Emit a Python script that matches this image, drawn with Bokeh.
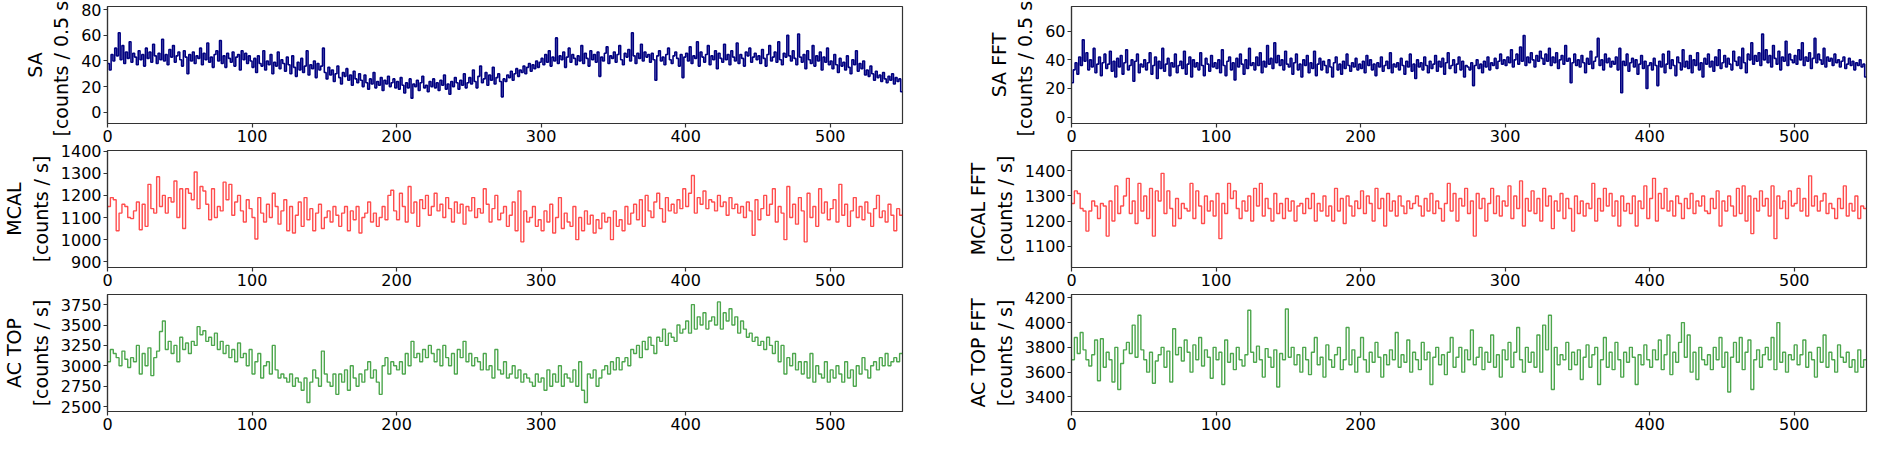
import numpy as np
from bokeh.plotting import figure
from bokeh.models import Range1d, FixedTicker
from bokeh.layouts import row, column
from bokeh.embed import file_html
from bokeh.resources import INLINE

T_END = 550.0

sa = [
    38, 33, 45, 40, 50, 44, 62, 41, 52, 38, 47, 42, 55, 39, 46, 43, 37, 48, 41, 45,
    36, 50, 42, 47, 39, 53, 44, 38, 46, 41, 57, 40, 45, 37, 49, 43, 52, 39, 44, 47,
    41, 36, 48, 43, 30, 45, 40, 47, 38, 44, 42, 50, 37, 46, 41, 54, 39, 43, 35, 45,
    48, 40, 56, 38, 44, 35, 46, 42, 39, 47, 36, 43, 45, 33, 48, 41, 46, 38, 44, 40,
    35, 42, 31, 44, 38, 36, 48, 33, 40, 37, 45, 30, 39, 36, 47, 34, 41, 38, 32, 43,
    37, 30, 44, 35, 28, 39, 33, 42, 31, 36, 48, 29, 37, 34, 40, 27, 38, 33, 36, 50,
    31, 26, 35, 29, 33, 24, 30, 36, 27, 22, 31, 28, 34, 25, 29, 21, 32, 26, 23, 30,
    25, 20, 29, 23, 18, 26, 22, 31, 19, 24, 21, 27, 17, 25, 22, 28, 20, 23, 26, 19,
    24, 18, 27, 21, 15, 23, 19, 26, 11, 22, 20, 25, 17, 23, 28, 19, 21, 16, 24, 20,
    26, 19, 23, 17, 25, 21, 29, 18, 22, 14, 24, 20, 27, 23, 18, 25, 21, 30, 19, 23,
    27, 22, 33, 24, 19, 28, 36, 23, 26, 31, 21, 29, 25, 35, 22, 27, 30, 24, 12, 26,
    24, 29, 27, 32, 25, 30, 34, 28, 33, 31, 36, 30, 35, 38, 32, 37, 34, 40, 35, 39,
    42, 37, 45, 39, 48, 36, 43, 40, 58, 38, 44, 41, 47, 35, 43, 50, 39, 45, 42, 37,
    44, 40, 52, 38, 46, 42, 36, 48, 41, 45, 39, 47, 28, 43, 40, 46, 51, 38, 44, 42,
    47, 39, 45, 52, 41, 37, 46, 43, 49, 40, 62, 44, 38, 46, 42, 53, 40, 47, 43, 45,
    39, 46, 41, 25, 44, 48, 40, 43, 37, 45, 50, 41, 38, 44, 47, 42, 36, 45, 27, 43,
    46, 40, 51, 38, 44, 42, 55, 36, 47, 43, 39, 45, 52, 37, 44, 41, 48, 34, 46, 42,
    39, 53, 41, 45, 37, 48, 43, 40, 54, 38, 45, 42, 36, 47, 44, 50, 39, 43, 46, 41,
    44, 38, 49, 42, 36, 45, 52, 40, 43, 47, 39, 55, 41, 37, 46, 43, 60, 44, 40, 48,
    42, 37, 61, 43, 39, 45, 34, 48, 41, 38, 52, 36, 44, 40, 47, 33, 43, 39, 50, 37,
    40, 34, 45, 37, 31, 42, 36, 39, 33, 44, 35, 30, 41, 37, 48, 32, 38, 34, 40, 29,
    33, 28, 36, 30, 25, 32, 27, 29, 24, 31, 26, 23, 28, 25, 30, 22, 27, 24, 26, 16,
]

sa_fft = [
    24, 33, 38, 30, 42, 36, 54, 39, 45, 33, 40, 35, 48, 31, 37, 42, 29, 38, 44, 34,
    37, 46, 32, 39, 28, 41, 35, 43, 30, 38, 47, 33, 36, 40, 25, 39, 44, 31, 37, 35,
    40, 33, 38, 45, 30, 36, 42, 27, 39, 34, 48, 32, 37, 41, 29, 38, 35, 44, 31, 36,
    39, 34, 46, 30, 37, 42, 28, 40, 35, 38, 33, 45, 36, 29, 41, 37, 32, 43, 35, 38,
    34, 40, 31, 47, 36, 29, 39, 42, 33, 38, 26, 41, 35, 44, 37, 30, 40, 34, 48, 36,
    38, 33, 42, 36, 45, 31, 39, 35, 50, 37, 41, 34, 52, 38, 43, 36, 40, 33, 46, 37,
    35, 41, 30, 38, 44, 33, 37, 28, 40, 36, 43, 31, 38, 34, 46, 29, 37, 41, 33, 39,
    36, 31, 40, 35, 28, 38, 42, 33, 37, 30, 39, 34, 44, 36, 32, 38, 35, 41, 33, 37,
    34, 39, 31, 43, 36, 40, 33, 37, 29, 38, 35, 42, 32, 36, 39, 34, 45, 31, 37, 35,
    38, 33, 41, 36, 30, 39, 35, 44, 32, 37, 27, 40, 35, 38, 33, 42, 36, 31, 39, 34,
    37, 43, 32, 39, 35, 41, 30, 38, 45, 34, 36, 40, 31, 37, 42, 33, 39, 28, 36, 35,
    33, 38, 22, 36, 40, 34, 37, 31, 39, 35, 42, 33, 38, 36, 41, 34, 39, 44, 37, 40,
    36, 42, 38, 47, 35, 40, 44, 37, 49, 39, 57, 36, 42, 38, 45, 40, 35, 43, 39, 46,
    41, 37, 44, 39, 48, 36, 42, 38, 45, 34, 40, 43, 37, 50, 39, 41, 24, 38, 44, 36,
    40, 35, 43, 38, 31, 41, 37, 46, 34, 39, 42, 55, 36, 40, 33, 44, 38, 41, 35, 39,
    37, 42, 33, 48, 17, 39, 36, 44, 32, 38, 41, 35, 40, 30, 37, 43, 34, 39, 20, 36,
    38, 33, 41, 36, 22, 39, 35, 44, 31, 37, 46, 34, 40, 36, 29, 42, 38, 33, 47, 35,
    39, 34, 43, 31, 40, 36, 45, 33, 38, 28, 41, 37, 44, 35, 39, 32, 42, 36, 47, 34,
    38, 43, 35, 41, 37, 33, 46, 39, 36, 42, 34, 48, 38, 31, 44, 40, 52, 37, 43, 39,
    45, 36, 58, 40, 47, 38, 43, 35, 50, 41, 37, 46, 33, 42, 39, 53, 36, 44, 40, 38,
    43, 37, 47, 40, 52, 36, 42, 39, 45, 34, 41, 55, 38, 44, 40, 37, 48, 35, 42, 39,
    41, 36, 44, 38, 40, 35, 39, 42, 34, 37, 41, 36, 39, 33, 38, 36, 40, 35, 37, 28,
]

mcal = [
    1150, 1190, 1180, 1040, 1120, 1160, 1150, 1100, 1095, 1130,
    1170, 1045, 1160, 1060, 1250, 1140, 1120, 1284, 1150, 1200,
    1120, 1190, 1170, 1265, 1100, 1230, 1050, 1230, 1210, 1180,
    1306, 1140, 1240, 1220, 1160, 1090, 1230, 1100, 1150, 1130,
    1260, 1180, 1250, 1110, 1170, 1200, 1130, 1080, 1180, 1140,
    1100, 1003, 1190, 1120, 1080, 1160, 1100, 1210, 1150, 1070,
    1130, 1180, 1040, 1150, 1030, 1110, 1170, 1060, 1190, 1090,
    1140, 1040, 1120, 1160, 1050, 1100, 1130, 1080, 1150, 1110,
    1060, 1120, 1150, 1040, 1130, 1090, 1150, 1030, 1100, 1120,
    1170, 1080, 1120, 1060, 1100, 1150, 1090, 1200, 1223, 1130,
    1090, 1210, 1150, 1080, 1240, 1120, 1170, 1060, 1180, 1140,
    1200, 1110, 1150, 1210, 1130, 1160, 1100, 1190, 1140, 1080,
    1170, 1120, 1160, 1070, 1150, 1130, 1190, 1100, 1140, 1120,
    1230, 1160, 1080, 1140, 1200, 1090, 1120, 1150, 1060, 1110,
    1170, 1040, 1220, 990, 1130, 1080, 1100, 1150, 1060, 1090,
    1040, 1130, 1080, 1160, 1030, 1100, 1190, 1050, 1120, 1080,
    1060, 1150, 1000, 1100, 1040, 1130, 1070, 1110, 1030, 1090,
    1050, 1120, 1080, 1100, 1000, 1130, 1060, 1090, 1040, 1150,
    1070, 1120, 1160, 1090, 1180, 1060, 1200, 1130, 1100, 1170,
    1210, 1140, 1080, 1190, 1130, 1160, 1120, 1180, 1140, 1230,
    1150, 1210, 1290, 1120, 1190, 1160, 1220, 1140, 1180, 1170,
    1130, 1200, 1150, 1170, 1110, 1190, 1140, 1160, 1120, 1150,
    1100, 1170, 1130, 1020, 1180, 1090, 1140, 1200, 1110, 1160,
    1230, 1080, 1150, 1120, 1000, 1240, 1100, 1160, 1070, 1190,
    1130, 990, 1210, 1100, 1150, 1060, 1230, 1120, 1170, 1090,
    1140, 1180, 1080, 1250, 1110, 1160, 1060, 1130, 1190, 1100,
    1150, 1090, 1170, 1120, 1060, 1140, 1200, 1100, 1130, 1080,
    1160, 1110, 1040, 1140, 1110,
]

mcal_fft = [
    1270, 1320, 1310, 1250, 1240, 1160, 1240, 1280, 1260, 1210,
    1270, 1260, 1140, 1280, 1200, 1340, 1230, 1260, 1300, 1370,
    1230, 1280, 1190, 1350, 1240, 1300, 1210, 1330, 1140, 1320,
    1280, 1390, 1230, 1320, 1250, 1180, 1290, 1210, 1270, 1250,
    1240, 1350, 1210, 1320, 1260, 1190, 1300, 1240, 1280, 1220,
    1310, 1130, 1270, 1230, 1350, 1290, 1320, 1250, 1210, 1280,
    1240, 1300, 1200, 1330, 1260, 1350, 1220, 1290, 1250, 1200,
    1310, 1230, 1270, 1210, 1290, 1240, 1280, 1200, 1260, 1270,
    1230, 1290, 1250, 1310, 1200, 1270, 1240, 1300, 1220, 1260,
    1200, 1330, 1240, 1290, 1190, 1300, 1260, 1220, 1280, 1250,
    1320, 1230, 1300, 1270, 1200, 1330, 1250, 1290, 1180, 1310,
    1240, 1280, 1220, 1300, 1260, 1230, 1280, 1250, 1270, 1300,
    1260, 1220, 1290, 1240, 1310, 1230, 1280, 1250, 1200, 1270,
    1350, 1240, 1310, 1200, 1290, 1260, 1330, 1230, 1280, 1140,
    1310, 1250, 1290, 1200, 1270, 1330, 1230, 1300, 1220, 1280,
    1260, 1340, 1210, 1300, 1250, 1360, 1180, 1290, 1240, 1320,
    1230, 1290, 1200, 1330, 1260, 1300, 1170, 1280, 1240, 1310,
    1210, 1290, 1250, 1160, 1300, 1230, 1280, 1220, 1270, 1250,
    1350, 1200, 1290, 1240, 1330, 1260, 1310, 1220, 1280, 1180,
    1300, 1240, 1270, 1230, 1300, 1180, 1280, 1250, 1340, 1210,
    1290, 1370, 1200, 1310, 1250, 1330, 1240, 1280, 1220, 1300,
    1270, 1210, 1290, 1250, 1310, 1230, 1280, 1260, 1300, 1240,
    1230, 1290, 1250, 1320, 1180, 1280, 1240, 1300, 1260, 1220,
    1330, 1230, 1340, 1200, 1300, 1150, 1290, 1240, 1320, 1260,
    1290, 1220, 1340, 1130, 1300, 1250, 1280, 1210, 1320, 1260,
    1270, 1330, 1240, 1290, 1220, 1380, 1260, 1300, 1240, 1280,
    1310, 1230, 1270, 1250, 1210, 1290, 1250, 1340, 1220, 1270,
    1240, 1300, 1210, 1260, 1250,
]

ac_top = [
    3050, 3200, 3150, 3100, 3000, 3180, 3080, 2980, 3100, 3050,
    3250, 2900, 3150, 3000, 3220, 2880, 3100, 3180, 3420, 3550,
    3200, 3300, 3150, 3250, 3050, 3350, 3200, 3280, 3150, 3300,
    3250, 3480, 3380, 3430, 3300, 3350, 3250, 3400, 3200, 3300,
    3150, 3250, 3100, 3200, 3050, 3280, 3100, 3150, 3000, 3200,
    2900, 3050, 3150, 2850, 3000, 3050, 2900, 3250, 2950, 2850,
    2900, 2850, 2800, 2900, 2750, 2850, 2800, 2700, 2850, 2550,
    2800, 2950, 2850, 2750, 3180, 2900, 2800, 2750, 2900, 2650,
    2900, 2800, 2950, 2700, 3000, 2850, 2750, 2900, 2800, 2950,
    3050, 2850, 2950, 2800, 2650, 3000, 3100, 2900, 3050, 3000,
    2950, 3050, 2900, 3150, 3000, 3300, 3100, 3150, 3050, 3200,
    3100, 3250, 3150, 3050, 3200, 3000, 3250, 3100, 3000, 3150,
    2900, 3200, 3100, 3300, 3050, 3150, 3000, 3100, 3050, 2950,
    3150, 2950, 3000, 2850, 3200, 2950, 2900, 3050, 2850, 2900,
    3000, 2850, 2950, 2800, 2900, 2850, 2800, 2750, 2900, 2800,
    2850, 2700, 2950, 2750, 2900, 2800, 3000, 2750, 2900, 2850,
    2800, 2950, 2750, 3050, 2700, 2550, 2900, 2850, 2950, 2750,
    2850, 2950, 3000, 2900, 3050, 2950, 3100, 2950, 3050, 3100,
    3000, 3200, 3150, 3250, 3100, 3300, 3200, 3350, 3250, 3150,
    3350, 3300, 3450, 3250, 3400, 3350, 3300, 3500, 3400, 3450,
    3550, 3400, 3750, 3450, 3600, 3500, 3650, 3450, 3550, 3600,
    3500, 3783, 3450, 3650, 3550, 3700, 3500, 3600, 3400, 3550,
    3450, 3350, 3400, 3300, 3350, 3250, 3300, 3200, 3350, 3250,
    3150, 3300, 3050, 3250, 2900, 3100, 3000, 3150, 2950, 3050,
    2900, 3050, 2850, 3150, 2800, 3000, 2900, 2850, 3050, 2800,
    2950, 2850, 3000, 2900, 2800, 3050, 2850, 2950, 2750, 3000,
    2900, 3100, 2950, 2850, 3000, 3050, 2950, 3100, 3000, 3150,
    3000, 3050, 3100, 3050, 3150,
]

ac_top_fft = [
    3700, 3880, 3750, 3920, 3780, 3700, 3650, 3740, 3860, 3530,
    3870, 3640, 3760, 3700, 3520, 3800, 3460, 3670, 3780, 3840,
    3750, 3980, 3720, 4060, 3780, 3700, 3600, 3760, 3510, 3690,
    3740, 3800, 3640, 3770, 3520, 3950, 3740, 3800, 3690, 3860,
    3760, 3600, 3820, 3700, 3880, 3650, 3780, 3720, 3550, 3800,
    3700, 3760, 3500, 3860, 3680, 3750, 3620, 3800, 3700, 3650,
    3740, 4100, 3760, 3680, 3810, 3700, 3560, 3790, 3720, 3640,
    3780, 3480, 3750, 3700, 4110, 3720, 3800, 3660, 3740, 3600,
    3800, 3700, 3580, 3760, 3880, 3660, 3720, 3560, 3820, 3700,
    3640, 3740, 3800, 3620, 3700, 3960, 3660, 3780, 3600, 3720,
    3880, 3700, 3600, 3760, 3680, 3840, 3720, 3560, 3740, 3660,
    3780, 3700, 3920, 3640, 3740, 3680, 3860, 3600, 3760, 3700,
    3620, 3840, 3700, 3760, 3500, 3720, 3800, 3660, 3740, 3580,
    3760, 3880, 3640, 3720, 3800, 3600, 3780, 3700, 3940, 3660,
    3720, 3800, 3620, 3760, 3680, 3900, 3640, 3740, 3560, 3780,
    3700, 3840, 3640, 3760, 3960, 3700, 3600, 3800, 3680, 3760,
    3640, 3900, 3600, 3980, 3780, 4060, 3460, 3800, 3660, 3740,
    3700, 3840, 3620, 3760, 3660, 3780, 3540, 3720, 3820, 3640,
    3740, 3800, 3500, 3700, 3880, 3640, 3760, 3620, 3840, 3700,
    3560, 3760, 3680, 3800, 3720, 3500, 3740, 3660, 3820, 3700,
    3640, 3780, 3700, 3860, 3620, 3740, 3900, 3580, 3760, 3680,
    3840, 4000, 3720, 3900, 3600, 3760, 3540, 3800, 3700, 3660,
    3740, 3620, 3800, 3700, 3880, 3640, 3760, 3440, 3720, 3840,
    3680, 3880, 3620, 3760, 3860, 3460, 3700, 3780, 3640, 3740,
    3800, 3700, 3880, 3620, 4000, 3680, 3760, 3600, 3740, 3700,
    3820, 3660, 3740, 3860, 3640, 3760, 3700, 3560, 3800, 3680,
    3900, 3640, 3760, 3700, 3600, 3820, 3720, 3680, 3760, 3640,
    3700, 3600, 3780, 3640, 3700,
]

x_ticks = [0, 100, 200, 300, 400, 500]
sa_ticks = [0, 20, 40, 60, 80]
sa_fft_ticks = [0, 20, 40, 60]
mcal_ticks = [900, 1000, 1100, 1200, 1300, 1400]
mcal_fft_ticks = [1100, 1200, 1300, 1400]
ac_ticks = [2500, 2750, 3000, 3250, 3500, 3750]
ac_fft_ticks = [3400, 3600, 3800, 4000, 4200]

FONT = "DejaVu Sans"


def panel(vals, label, color, alpha, lw, y0, y1, yticks, width, bl, br, height, bt):
    vals = np.asarray(vals, dtype=float)
    n = len(vals)
    t = np.arange(n + 1) * (T_END / n)
    y = np.append(vals, vals[-1])
    p = figure(width=width, height=height, x_range=Range1d(0, T_END),
               y_range=Range1d(y0, y1), output_backend="svg",
               toolbar_location=None, min_border_left=bl, min_border_right=br,
               min_border_top=bt, min_border_bottom=0)
    p.step(t, y, mode="after", line_color=color, line_alpha=alpha, line_width=lw)
    p.xgrid.visible = False
    p.ygrid.visible = False
    p.outline_line_color = "#333333"
    p.outline_line_width = 1.2
    p.background_fill_color = "white"
    p.border_fill_color = "white"
    p.xaxis.ticker = FixedTicker(ticks=x_ticks)
    p.yaxis.ticker = FixedTicker(ticks=yticks)
    for ax in (p.xaxis[0], p.yaxis[0]):
        ax.axis_line_color = "#333333"
        ax.axis_line_width = 1.2
        ax.major_tick_line_color = "#333333"
        ax.major_tick_line_width = 1.2
        ax.major_tick_out = 4
        ax.major_tick_in = 0
        ax.minor_tick_out = 0
        ax.minor_tick_in = 0
        ax.major_label_text_font = FONT
        ax.major_label_text_font_size = "16px"
        ax.major_label_text_color = "black"
        ax.major_label_standoff = 2
    p.xaxis.axis_label_standoff = 0
    p.xaxis.major_label_text_line_height = 1.0
    p.yaxis.axis_label = label
    p.yaxis.axis_label_text_font = FONT
    p.yaxis.axis_label_text_font_size = "19px"
    p.yaxis.axis_label_text_font_style = "normal"
    p.yaxis.axis_label_text_color = "black"
    p.yaxis.axis_label_standoff = 6
    return p


H = 144
BT = 6
LW, LBL, LBR = 964, 100, 62
RW, RBL, RBR = 904, 100, 2
NAVY = "#000080"
RED = "#ff0000"
GREEN = "#008000"

left = column(
    panel(sa, "SA\n[counts / 0.5 s]", NAVY, 1.0, 1.6, -8.8, 82.5, sa_ticks, LW, LBL, LBR, H, BT),
    panel(mcal, "MCAL\n[counts / s]", RED, 0.7, 1.4, 874, 1403, mcal_ticks, LW, LBL, LBR, H, BT),
    panel(ac_top, "AC TOP\n[counts / s]", GREEN, 0.7, 1.4, 2440, 3874, ac_ticks, LW, LBL, LBR, H, BT),
)
right = column(
    panel(sa_fft, "SA FFT\n[counts / 0.5 s]", NAVY, 1.0, 1.6, -4.5, 77.3, sa_fft_ticks, RW, RBL, RBR, H, BT),
    panel(mcal_fft, "MCAL FFT\n[counts / s]", RED, 0.7, 1.4, 1015, 1481, mcal_fft_ticks, RW, RBL, RBR, H, BT),
    panel(ac_top_fft, "AC TOP FFT\n[counts / s]", GREEN, 0.7, 1.4, 3282, 4227, ac_fft_ticks, RW, RBL, RBR, H, BT),
)
p = row(left, right)

open("out.html", "w").write(file_html(p, INLINE))
